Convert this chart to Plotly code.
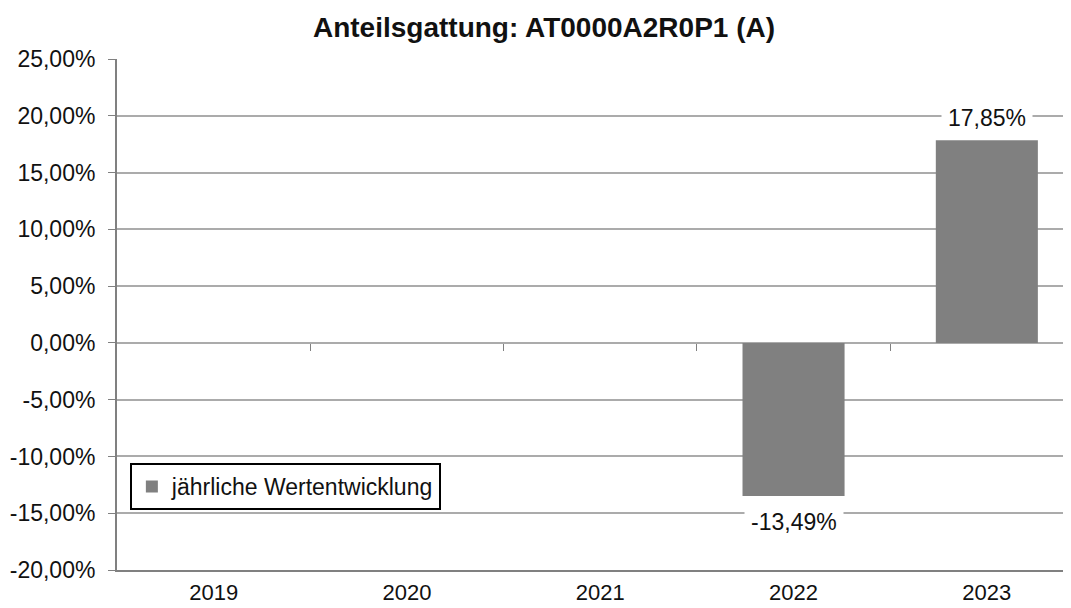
import plotly.graph_objects as go

years = ["2019", "2020", "2021", "2022", "2023"]
returns = [None, None, None, -13.49, 17.85]
series_name = "jährliche Wertentwicklung"
title = "Anteilsgattung: AT0000A2R0P1 (A)"
y_ticks = [-20, -15, -10, -5, 0, 5, 10, 15, 20, 25]


def fmt_pct(v):
    return f"{v:.2f}%".replace(".", ",")


FONT = "Arial, Liberation Sans, sans-serif"
GRAY = "#808080"
TXT = "#111111"

n = len(years)
x_range = [-0.5, 4.394]
y_min, y_max = y_ticks[0], y_ticks[-1]

fig = go.Figure()
fig.add_trace(go.Bar(
    x=list(range(n)), y=returns, name=series_name,
    marker=dict(color=GRAY, line=dict(width=0)),
    width=0.528, showlegend=True,
))

# value labels with white background (interrupt gridlines like the original)
for i, yv in enumerate(returns):
    if yv is None:
        continue
    fig.add_annotation(
        x=i, y=yv, xref="x", yref="y",
        text=fmt_pct(yv),
        showarrow=False, bgcolor="white", borderpad=6,
        font=dict(family=FONT, size=23, color=TXT),
        yshift=22 if yv >= 0 else -26,
    )

# helper axis at zero with ticks at category boundaries
fig.add_trace(go.Scatter(x=[None], y=[None], xaxis="x2", yaxis="y",
                         showlegend=False, hoverinfo="skip"))

fig.update_layout(
    width=1055, height=600,
    margin=dict(l=109, r=0, t=51, b=38),
    paper_bgcolor="white", plot_bgcolor="white",
    title=dict(text=f"<b>{title}</b>", x=536 / 1055, xanchor="center",
               y=1 - 19 / 600, yanchor="middle",
               font=dict(family=FONT, size=28, color=TXT)),
    font=dict(family=FONT, size=23, color=TXT),
    xaxis=dict(
        type="linear", range=x_range, automargin=False,
        tickvals=list(range(n)), ticktext=years,
        showline=True, linecolor=GRAY, linewidth=2,
        showgrid=False, ticks="", zeroline=False,
        tickfont=dict(family=FONT, size=22, color=TXT),
        ticklabelstandoff=2,
    ),
    xaxis2=dict(
        type="linear", range=x_range, overlaying="x", anchor="free",
        position=(0 - y_min) / (y_max - y_min), side="bottom",
        automargin=False,
        showline=False, showgrid=False, zeroline=False,
        tickvals=[i + 0.5 for i in range(n - 1)], ticks="outside",
        ticklen=7, tickcolor=GRAY, tickwidth=1, showticklabels=False,
    ),
    yaxis=dict(
        range=[y_min, y_max], automargin=False,
        tickvals=y_ticks, ticktext=[fmt_pct(v) for v in y_ticks],
        showgrid=True, gridcolor="#ababab", gridwidth=1.5,
        zeroline=False,
        showline=True, linecolor=GRAY, linewidth=2,
        ticks="outside", ticklen=7, tickcolor=GRAY, tickwidth=1,
        tickfont=dict(family=FONT, size=23, color=TXT),
        ticklabelstandoff=8,
    ),
    legend=dict(
        x=0.0136, y=0.2094, xanchor="left", yanchor="top",
        bordercolor="black", borderwidth=2, bgcolor="white",
        font=dict(family=FONT, size=23, color=TXT),
        itemwidth=30, tracegroupgap=0,
    ),
)

fig.write_html("out.html")
